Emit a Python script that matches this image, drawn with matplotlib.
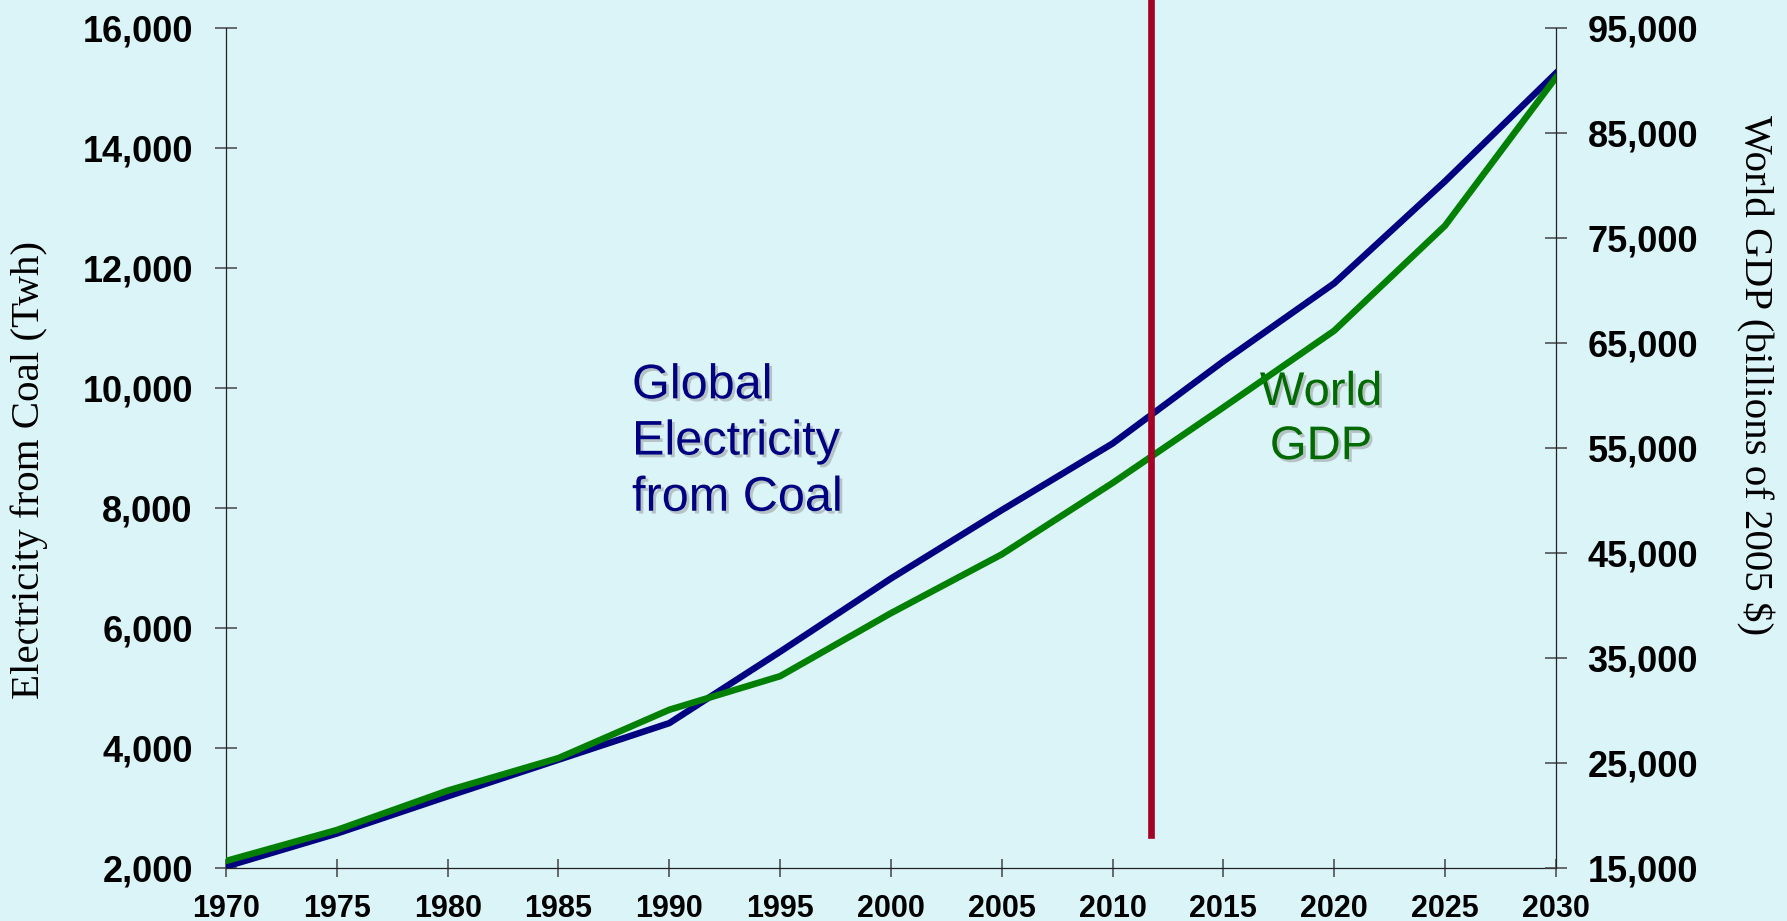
import matplotlib
matplotlib.use('Agg')
import numpy as np
from matplotlib import pyplot as plt
from matplotlib import patheffects as pe

# data (5-year steps)
years = [1970, 1975, 1980, 1985, 1990, 1995, 2000, 2005, 2010, 2015, 2020, 2025, 2030]
coal_twh = [2030, 2580, 3200, 3810, 4420, 5610, 6830, 7970, 9080, 10450, 11750, 13450, 15250]
gdp_bn = [15700, 18650, 22400, 25500, 30100, 33300, 39300, 44900, 51700, 58900, 66200, 76200, 90300]

left_ticks = list(range(2000, 16001, 2000))
right_ticks = list(range(15000, 95001, 10000))
x_ticks = years

divider_year = 2011.75
divider_span = [2550, 16700]

bg = '#DBF4F8'
navy = '#000080'
green = '#008000'
text_green = '#006A00'
red = '#A50026'

plt.rcParams['font.family'] = ['Liberation Sans', 'DejaVu Sans']

fig = plt.figure(figsize=(17.87, 9.21), dpi=100, facecolor=bg)
ax = fig.add_axes([0.1265, 0.0572, 0.7441, 0.912])
ax.set_facecolor(bg)
ax2 = ax.twinx()

ax.plot(years, coal_twh, color=navy, lw=4.7, solid_joinstyle='miter', zorder=3)
ax2.plot(years, gdp_bn, color=green, lw=4.7, solid_joinstyle='miter', zorder=3)
ax2.plot([divider_year, divider_year], divider_span, color=red, lw=4.8,
         transform=ax.transData, clip_on=False, zorder=5)

ax.set_xlim(1970, 2030)
ax.set_ylim(2000, 16000)
ax2.set_ylim(15000, 95000)

ax.set_xticks(x_ticks)
ax.set_xticklabels([str(y) for y in x_ticks], fontsize=22, fontweight='bold')
ax.set_yticks(left_ticks)
ax.set_yticklabels([f'{v:,}' for v in left_ticks], fontsize=26, fontweight='bold')
ax2.set_yticks(right_ticks)
ax2.set_yticklabels([f'{v:,}' for v in right_ticks], fontsize=26, fontweight='bold')

ax.tick_params(axis='y', direction='inout', length=15.8, width=1.1, color='#444444', pad=16)
ax.tick_params(axis='x', direction='inout', length=13, width=1.1, color='#444444', pad=12)
ax2.tick_params(axis='y', direction='inout', length=15.8, width=1.1, color='#444444', pad=15)

for a in (ax, ax2):
    a.spines['top'].set_visible(False)
    for s in ('left', 'right', 'bottom'):
        a.spines[s].set_color('#222222')
        a.spines[s].set_linewidth(0.9)
ax.spines['right'].set_visible(False)
ax2.spines['left'].set_visible(False)
ax2.spines['bottom'].set_visible(False)

fig.text(0.0165, 0.4897, 'Electricity from Coal (Twh)', rotation=90, ha='center', va='center',
         fontsize=29.5, family='Liberation Serif')
fig.text(0.982, 0.5928, 'World GDP (billions of 2005 $)', rotation=270, ha='center', va='center',
         fontsize=29.5, family='Liberation Serif')

shadow = [pe.SimplePatchShadow(offset=(2, -2), shadow_rgbFace='#888888', alpha=0.45), pe.Normal()]
ax.text(0.3053, 0.5075, 'Global\nElectricity\nfrom Coal', transform=ax.transAxes,
        ha='left', va='center', fontsize=35, color=navy, linespacing=1.32,
        path_effects=shadow, zorder=6)
ax.text(0.8235, 0.5337, 'World\nGDP', transform=ax.transAxes,
        ha='center', va='center', multialignment='center', fontsize=34, color=text_green,
        linespacing=1.3, path_effects=shadow, zorder=6)

plt.savefig('out.png', dpi=100, facecolor=bg)
